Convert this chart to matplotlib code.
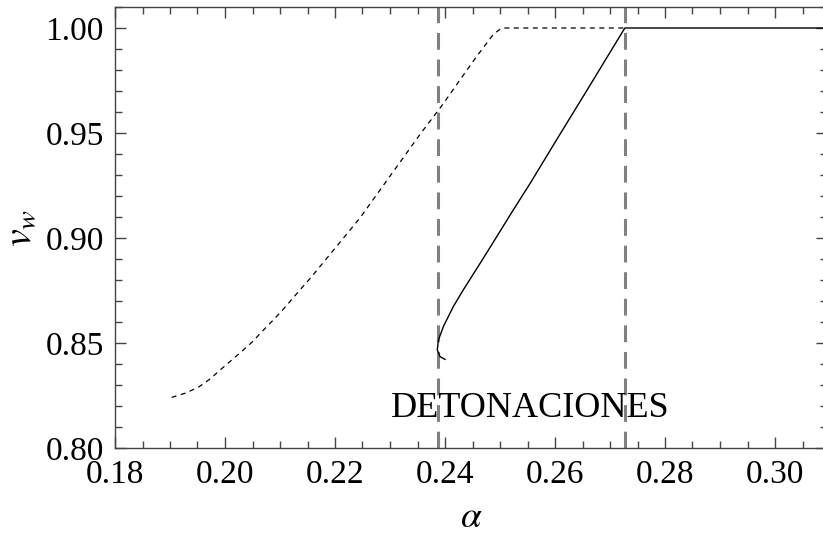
import matplotlib.pyplot as plt
from matplotlib.ticker import MultipleLocator, FormatStrFormatter

plt.rcParams['font.family'] = ['Liberation Serif', 'DejaVu Serif']
plt.rcParams['mathtext.fontset'] = 'stix'

# deflagration branch (dotted)
alpha_def = [0.1903, 0.1930, 0.1953, 0.1973, 0.1991, 0.2011, 0.2030, 0.2050,
             0.2067, 0.2085, 0.2102, 0.2118, 0.2135, 0.2155, 0.2200, 0.2245,
             0.2291, 0.2324, 0.2355, 0.2397, 0.2427, 0.2458, 0.2488, 0.2503,
             0.2729]
vw_def = [0.8241, 0.8263, 0.8292, 0.8329, 0.8371, 0.8416, 0.8459, 0.8506,
          0.8554, 0.8602, 0.8649, 0.8697, 0.8749, 0.8808, 0.8951, 0.9094,
          0.9262, 0.9382, 0.9495, 0.9640, 0.9752, 0.9866, 0.9970, 1.0000,
          1.0000]

# detonation branch (solid)
alpha_det = [0.2400, 0.2391, 0.2386, 0.2388, 0.2397, 0.2415, 0.2433, 0.2464,
             0.2494, 0.2524, 0.2555, 0.2606, 0.2658, 0.2727, 0.3100]
vw_det = [0.8422, 0.8435, 0.8467, 0.8514, 0.8578, 0.8673, 0.8752, 0.8880,
          0.9006, 0.9133, 0.9261, 0.9481, 0.9703, 1.0000, 1.0000]

# limits of the detonation region
alpha_lims = [0.2387, 0.2727]

fig = plt.figure(figsize=(8.23, 5.45), dpi=100)
ax = fig.add_axes([115 / 823, 97 / 545, 712 / 823, 441 / 545])

for a in alpha_lims:
    ax.axvline(a, color='#808080', lw=2.2, dashes=(5.5, 3.2))

ax.plot(alpha_def, vw_def, color='black', lw=0.9, dashes=(4.0, 3.6))
ax.plot(alpha_det, vw_det, color='black', lw=1.0)

ax.text(0.2555, 0.819, 'DETONACIONES', fontsize=26, ha='center', va='center')

ax.set_xlim(0.18, 0.18 + 712 / 5500)
ax.set_ylim(0.80, 1.01)

ax.xaxis.set_major_locator(MultipleLocator(0.02))
ax.xaxis.set_minor_locator(MultipleLocator(0.005))
ax.yaxis.set_major_locator(MultipleLocator(0.05))
ax.yaxis.set_minor_locator(MultipleLocator(0.01))
ax.xaxis.set_major_formatter(FormatStrFormatter('%.2f'))
ax.yaxis.set_major_formatter(FormatStrFormatter('%.2f'))

ax.tick_params(which='both', direction='in', top=True, right=True,
               color='#444444', width=1.0, labelsize=24)
ax.tick_params(which='major', length=8, pad=8)
ax.tick_params(which='minor', length=5)
for s in ax.spines.values():
    s.set_color('#444444')
    s.set_linewidth(1.0)

ax.set_xlabel(r'$\alpha$', fontsize=27, labelpad=8)
ax.set_ylabel(r'$v_w$', fontsize=29, labelpad=4)

fig.savefig('out.png', dpi=100)
